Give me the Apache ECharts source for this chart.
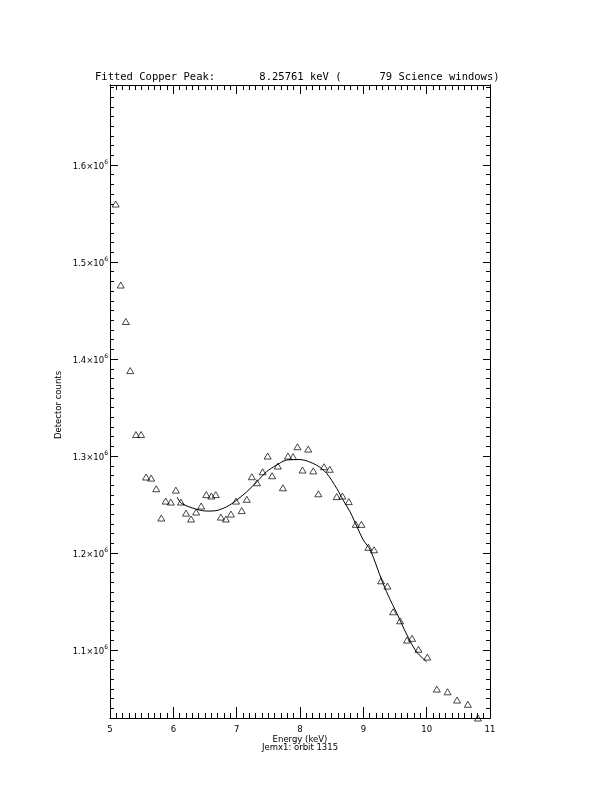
<!DOCTYPE html>
<html><head><meta charset="utf-8">
<script src="https://cdn.jsdelivr.net/npm/echarts@6/dist/echarts.min.js"></script>
<style>html,body{margin:0;padding:0;background:#fff}#c{width:612px;height:792px}</style>
</head><body><div id="c"></div>
<script>
const energy = [5.09,5.17,5.25,5.32,5.41,5.49,5.57,5.65,5.73,5.81,5.88,5.96,6.04,6.12,6.20,6.28,6.36,6.44,6.52,6.60,6.67,6.75,6.83,6.91,6.99,7.08,7.16,7.24,7.32,7.41,7.49,7.56,7.65,7.73,7.81,7.89,7.96,8.04,8.13,8.21,8.29,8.38,8.47,8.58,8.67,8.77,8.88,8.97,9.08,9.17,9.28,9.38,9.47,9.58,9.69,9.77,9.87,10.01,10.16,10.33,10.48,10.65,10.81];
const counts = [1559800,1476300,1438700,1388100,1322200,1322200,1278400,1277300,1266300,1236100,1253600,1252600,1264900,1252600,1241200,1235100,1242300,1248500,1260300,1258800,1260300,1237100,1235100,1240200,1253600,1243800,1255400,1278700,1272500,1283800,1300000,1279700,1289700,1267300,1300000,1299500,1309600,1285600,1307200,1284700,1261100,1289000,1286400,1258200,1258800,1253100,1229600,1229600,1205900,1203400,1171400,1166000,1139500,1130200,1110300,1112100,1100800,1092800,1059800,1057000,1048500,1044100,1030000];
const fitEnergy = [6.06,6.13,6.37,6.53,6.66,6.84,7.00,7.16,7.32,7.47,7.63,7.79,8.00,8.26,8.42,8.58,8.68,8.79,8.90,9.00,9.11,9.29,9.39,9.53,9.69,9.84,10.00];
const fitCounts = [1257700,1251200,1245100,1243300,1243600,1247700,1254600,1263200,1273500,1283800,1290700,1295900,1296400,1290700,1282200,1266700,1254600,1242600,1227100,1213400,1203100,1172200,1156700,1137800,1115500,1098200,1087900];
const xTickValues = [5,6,7,8,9,10,11];
const yTickValues = [1100000,1200000,1300000,1400000,1500000,1600000];
const titleText = 'Fitted Copper Peak:       8.25761 keV (      79 Science windows)';
const xTitle = 'Energy (keV)';
const subTitle = 'Jemx1: orbit 1315';
const yTitle = 'Detector counts';

const Y_MIN = 1030000, Y_MAX = 1682500;
const yMinorValues = [];
for (let v = 1030000; v <= 1680000; v += 10000) yMinorValues.push(v);

const FONT = 'DejaVu Sans';
const black = '#000';

function xAxisDef(pos, labels) {
  return {
    type: 'value', position: pos, min: 5, max: 11, interval: 1,
    axisLine: { show: true, onZero: false, lineStyle: { color: black, width: 1 } },
    axisTick: { show: true, inside: true, length: pos === 'bottom' ? 11 : 9, lineStyle: { color: black, width: 1 } },
    minorTick: { show: true, splitNumber: 10, length: 5, lineStyle: { color: black, width: 1 } },
    splitLine: { show: false }, minorSplitLine: { show: false },
    axisLabel: { show: labels, margin: 7, color: black, fontFamily: FONT, fontSize: 8.5,
      customValues: xTickValues, formatter: v => String(v) }
  };
}
function yAxisDef(pos, major, labels) {
  return {
    type: 'value', position: pos, min: Y_MIN, max: Y_MAX,
    axisLine: { show: true, onZero: false, lineStyle: { color: black, width: 1 } },
    axisTick: { show: true, inside: true, length: major ? (pos === 'left' ? 8 : 7) : 4,
      customValues: major ? yTickValues : yMinorValues, lineStyle: { color: black, width: 1 } },
    splitLine: { show: false },
    axisLabel: { show: labels, margin: 2, color: black, fontFamily: FONT, fontSize: 8.5,
      customValues: yTickValues,
      formatter: v => '{b|' + (v / 1e6).toFixed(1) + '×10}{s|6}',
      rich: {
        b: { fontFamily: FONT, fontSize: 8.5, color: black, lineHeight: 12, verticalAlign: 'bottom' },
        s: { fontFamily: FONT, fontSize: 6, color: black, lineHeight: 12, verticalAlign: 'top' }
      } }
  };
}

const chart = echarts.init(document.getElementById('c'), null, { renderer: 'canvas' });
chart.setOption({
  backgroundColor: '#fff',
  animation: false,
  grid: { left: 110, right: 122, top: 85, bottom: 74, containLabel: false },
  xAxis: [xAxisDef('bottom', true), xAxisDef('top', false)],
  yAxis: [yAxisDef('left', true, true), yAxisDef('left', false, false),
          yAxisDef('right', true, false), yAxisDef('right', false, false)],
  series: [
    { type: 'line', xAxisIndex: 0, yAxisIndex: 0, data: fitEnergy.map((e, i) => [e, fitCounts[i]]),
      showSymbol: false, smooth: 0.3, lineStyle: { color: black, width: 1 }, z: 2 },
    { type: 'scatter', xAxisIndex: 0, yAxisIndex: 0, data: energy.map((e, i) => [e, counts[i]]),
      symbol: 'triangle', symbolSize: [7, 6], clip: false,
      itemStyle: { color: 'rgba(255,255,255,0)', borderColor: black, borderWidth: 0.9 }, z: 3 }
  ],
  graphic: [
    { type: 'text', x: 95, y: 77, style: { text: titleText, fill: black, font: '10.5px "DejaVu Sans Mono"', textAlign: 'left', textVerticalAlign: 'middle' } },
    { type: 'text', x: 300, y: 740, style: { text: xTitle, fill: black, font: '8.5px "DejaVu Sans"', textAlign: 'center', textVerticalAlign: 'middle' } },
    { type: 'text', x: 300, y: 748, style: { text: subTitle, fill: black, font: '8.5px "DejaVu Sans"', textAlign: 'center', textVerticalAlign: 'middle' } },
    { type: 'text', x: 59, y: 405, rotation: Math.PI / 2, style: { text: yTitle, fill: black, font: '8.5px "DejaVu Sans"', textAlign: 'center', textVerticalAlign: 'middle' } }
  ]
});
</script>
</body></html>
